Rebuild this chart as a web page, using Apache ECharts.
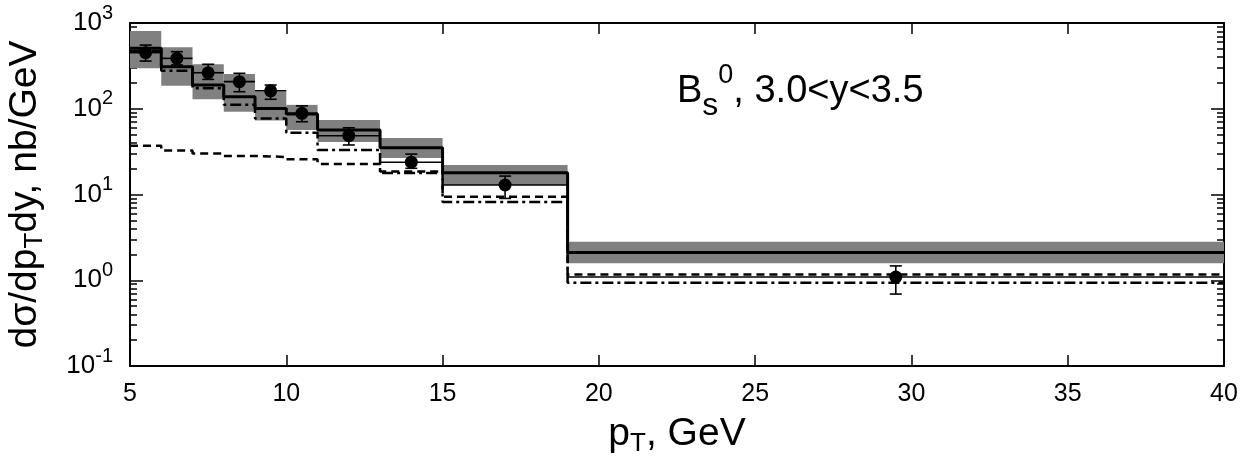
<!DOCTYPE html>
<html>
<head>
<meta charset="utf-8">
<script src="https://cdn.jsdelivr.net/npm/echarts@6/dist/echarts.min.js"></script>
<style>
html, body { margin: 0; padding: 0; background: #fff; }
#chartDiv { width: 1256px; height: 460px; }
</style>
</head>
<body>
<div id="chartDiv"></div>
<script>
// pT bins, GeV
var binEdges = [5, 6, 7, 8, 9, 10, 11, 13, 15, 19, 40];
var binCenters = [5.5, 6.5, 7.5, 8.5, 9.5, 10.5, 12, 14, 17, 29.5];

// theory curves, nb/GeV
var totalCurve = [507, 309, 189, 138, 101, 87, 56.5, 35, 17.9, 2.1];
var bandLow = [296, 186, 129, 92, 73, 56.5, 41, 26.7, 12.9, 1.58];
var bandHigh = [807, 520, 330, 254, 158, 111, 74, 45.6, 22.1, 2.82];
var dashedCurve = [37, 32.5, 30, 28.2, 27.4, 25.7, 22.7, 18.5, 9.4, 1.17];
var dashDotCurve = [470, 278, 173, 111, 77, 52.6, 33, 17.8, 8.2, 0.935];

// measured points
var dataValues = [451, 387, 263, 207, 162, 88.5, 48.5, 23.8, 12.9, 1.09];
var errLow = [360, 324, 220, 158, 129, 70.6, 37.8, 20.2, 9, 0.69];
var errHigh = [553, 463, 330, 259, 189, 108, 60, 29.6, 16.4, 1.47];

var FONT = 'Liberation Sans';

function MAKE_CHART(){
    var chart = echarts.init(document.getElementById('chartDiv'));

    var stepData = function (vals) {
        return binEdges.map(function (e, i) {
            return [e, vals[Math.min(i, vals.length - 1)]];
        });
    };

    var bandData = binCenters.map(function (c, i) {
        return [binEdges[i], binEdges[i + 1], bandLow[i], bandHigh[i]];
    });

    var errData = binCenters.map(function (c, i) {
        return [c, dataValues[i], errLow[i], errHigh[i], binEdges[i], binEdges[i + 1]];
    });

    var axisCommon = {
        axisLine: { show: true, onZero: false, lineStyle: { color: '#000', width: 2 } },
        splitLine: { show: false }
    };

    // main text + subscript, used by both axis titles
    var titleRich = {
        a: { fontSize: 39, lineHeight: 46, verticalAlign: 'middle', fontFamily: FONT, color: '#000' },
        sub: { fontSize: 26, lineHeight: 14, verticalAlign: 'bottom', fontFamily: FONT, color: '#000' }
    };

    var opts = {
        animation: false,
        backgroundColor: '#fff',
        grid: { left: 130, right: 32, top: 23, bottom: 94, containLabel: false, outerBoundsMode: 'none' },
        xAxis: [
            Object.assign({}, axisCommon, {
                type: 'value', min: 5, max: 40, interval: 5, position: 'bottom',
                axisTick: { show: true, inside: true, length: 11, lineStyle: { color: '#000', width: 1.5 } },
                axisLabel: { color: '#000', fontSize: 25, fontFamily: FONT, margin: 16 },
                name: '{a|p}{sub|T}{a|, GeV}',
                nameLocation: 'middle',
                nameGap: 45,
                nameTextStyle: { color: '#000', fontSize: 39, fontFamily: FONT, rich: titleRich }
            }),
            Object.assign({}, axisCommon, {
                type: 'value', min: 5, max: 40, interval: 5, position: 'top',
                axisTick: { show: true, inside: true, length: 11, lineStyle: { color: '#000', width: 1.5 } },
                axisLabel: { show: false }
            })
        ],
        yAxis: [
            Object.assign({}, axisCommon, {
                type: 'log', logBase: 10, min: 0.1, max: 1000, interval: 1, position: 'left',
                axisTick: { show: true, inside: true, length: 13, lineStyle: { color: '#000', width: 1.5 } },
                minorTick: { show: true, splitNumber: 9, length: 7, lineStyle: { color: '#000', width: 1.5 } },
                axisLabel: {
                    color: '#000', margin: 17,
                    formatter: function (v) {
                        return '{b|10}{sup|' + Math.round(Math.log10(v)) + '}';
                    },
                    rich: {
                        b: { fontSize: 26, lineHeight: 40, verticalAlign: 'middle', fontFamily: FONT, color: '#000' },
                        sup: { fontSize: 20, lineHeight: 20, verticalAlign: 'top', fontFamily: FONT, color: '#000' }
                    }
                },
                name: '{a|dσ/dp}{sub|T}{a|dy, nb/GeV}',
                nameLocation: 'middle',
                nameGap: 82,
                nameRotate: 90,
                nameTextStyle: { color: '#000', fontSize: 39, fontFamily: FONT, rich: titleRich }
            }),
            Object.assign({}, axisCommon, {
                type: 'log', logBase: 10, min: 0.1, max: 1000, interval: 1, position: 'right',
                axisTick: { show: true, inside: true, length: 13, lineStyle: { color: '#000', width: 1.5 } },
                minorTick: { show: true, splitNumber: 9, length: 7, lineStyle: { color: '#000', width: 1.5 } },
                axisLabel: { show: false }
            })
        ],
        graphic: [{
            type: 'text',
            left: 677,
            top: 62,
            style: {
                text: '{a|B}{sub|s}{sup|0}{a|, 3.0<y<3.5}',
                fill: '#000',
                rich: {
                    a: { fontSize: 38, lineHeight: 60, verticalAlign: 'middle', fontFamily: FONT, fill: '#000' },
                    sub: { fontSize: 32, lineHeight: 32, verticalAlign: 'bottom', fontFamily: FONT, fill: '#000' },
                    sup: { fontSize: 27, lineHeight: 34, verticalAlign: 'top', fontFamily: FONT, fill: '#000' }
                }
            }
        }],
        series: [
            {
                name: 'band',
                type: 'custom',
                xAxisIndex: 0, yAxisIndex: 0,
                encode: { x: [0, 1], y: [2, 3] },
                renderItem: function (params, api) {
                    var p1 = api.coord([api.value(0), api.value(3)]);
                    var p2 = api.coord([api.value(1), api.value(2)]);
                    return {
                        type: 'rect',
                        shape: { x: p1[0], y: p1[1], width: p2[0] - p1[0], height: p2[1] - p1[1] },
                        style: { fill: '#808080' }
                    };
                },
                data: bandData,
                z: 1
            },
            {
                name: 'dashed',
                type: 'line', step: 'end', symbol: 'none',
                lineStyle: { color: '#000', width: 2.5, type: [8, 5] },
                data: stepData(dashedCurve),
                z: 3
            },
            {
                name: 'dashdot',
                type: 'line', step: 'end', symbol: 'none',
                lineStyle: { color: '#000', width: 2.5, type: [11, 4, 3, 4] },
                data: stepData(dashDotCurve),
                z: 3
            },
            {
                name: 'total',
                type: 'line', step: 'end', symbol: 'none',
                lineStyle: { color: '#000', width: 3 },
                data: stepData(totalCurve),
                z: 4
            },
            {
                name: 'errors',
                type: 'custom',
                encode: { x: [0, 4, 5], y: [1, 2, 3] },
                renderItem: function (params, api) {
                    var c = api.coord([api.value(0), api.value(1)]);
                    var lo = api.coord([api.value(0), api.value(2)]);
                    var hi = api.coord([api.value(0), api.value(3)]);
                    var left = api.coord([api.value(4), api.value(1)]);
                    var right = api.coord([api.value(5), api.value(1)]);
                    var st = { stroke: '#000', lineWidth: 1.6 };
                    return {
                        type: 'group',
                        children: [
                            { type: 'line', shape: { x1: left[0], y1: c[1], x2: right[0], y2: c[1] }, style: st },
                            { type: 'line', shape: { x1: c[0], y1: lo[1], x2: c[0], y2: hi[1] }, style: st },
                            { type: 'line', shape: { x1: c[0] - 6, y1: lo[1], x2: c[0] + 6, y2: lo[1] }, style: st },
                            { type: 'line', shape: { x1: c[0] - 6, y1: hi[1], x2: c[0] + 6, y2: hi[1] }, style: st }
                        ]
                    };
                },
                data: errData,
                z: 5
            },
            {
                name: 'data',
                type: 'scatter',
                symbol: 'circle',
                symbolSize: 13,
                itemStyle: { color: '#000', opacity: 1 },
                data: binCenters.map(function (c, i) { return [c, dataValues[i]]; }),
                z: 6
            }
        ]
    };

    chart.setOption(opts);
}

MAKE_CHART();
</script>
</body>
</html>
